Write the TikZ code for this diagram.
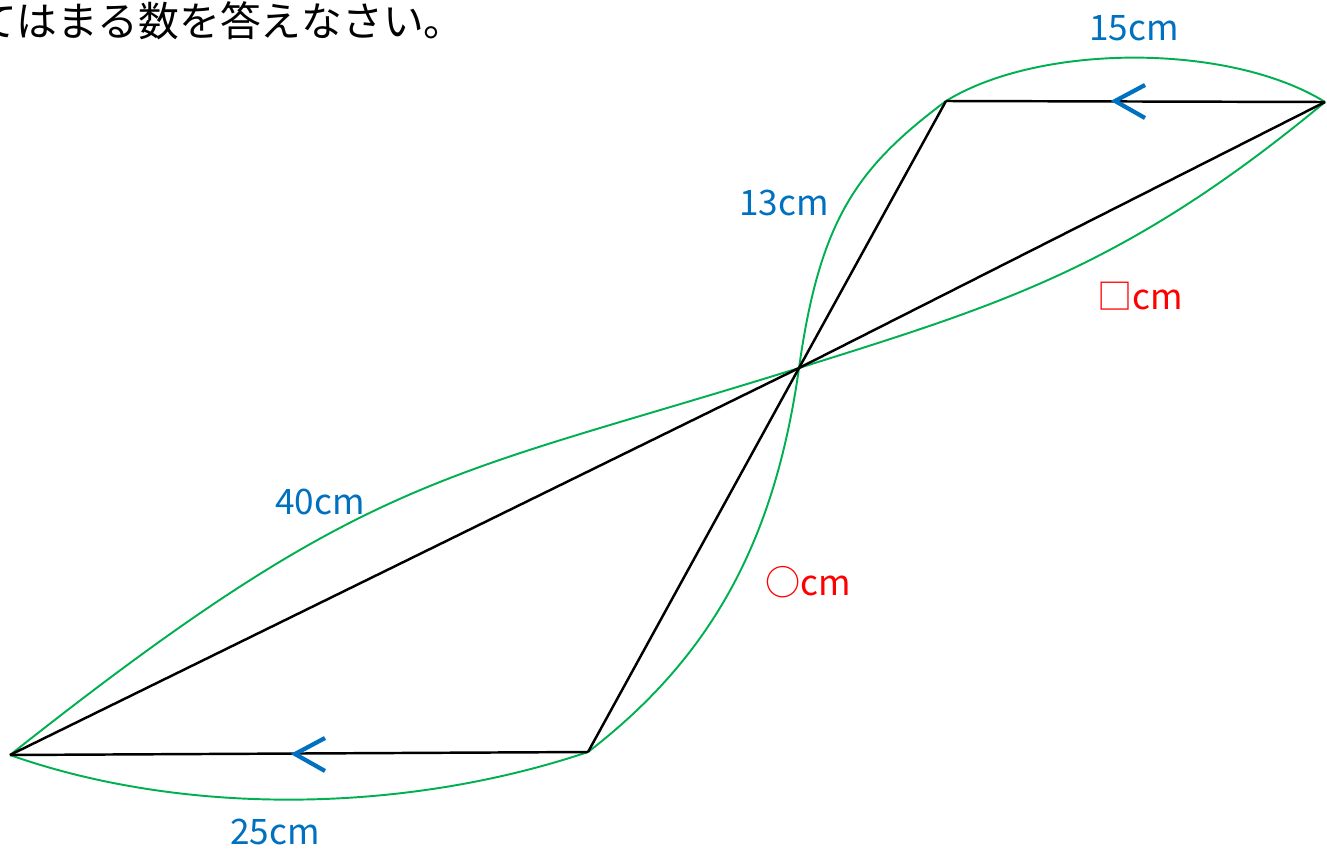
\documentclass[tikz,border=0pt]{standalone}
\usepackage{fontspec}
\setmainfont{Noto Sans CJK JP}
\definecolor{lblue}{RGB}{0,112,192}
\definecolor{lgreen}{RGB}{0,176,80}
\begin{document}
\begin{tikzpicture}[x=0.02cm, y=-0.02cm,
    side/.style={line width=1.4pt, black},
    arc/.style={line width=1.1pt, lgreen},
    chev/.style={line width=2.4pt, lblue},
    lbl/.style={text=lblue, font=\fontsize{20}{24}\selectfont, inner sep=0pt},
    ans/.style={text=red, font=\fontsize{20}{24}\selectfont, inner sep=0pt}]
        \useasboundingbox (0,0) rectangle (1327,852);

        \node[anchor=west, inner sep=0pt, font=\fontsize{23.2}{27}\selectfont] at (-24,21) (q) {てはまる数を答えなさい。};

        \coordinate (a) at (10,755);
        \coordinate (b) at (588,752);
        \coordinate (o) at (799,368);
        \coordinate (c) at (946,101);
        \coordinate (d) at (1325,102);

        % green arcs for the lengths
        \draw[arc] (c) .. controls (1040,43) and (1230,43) .. (d);
        \draw[arc] (c) .. controls (858,167) and (820,218) .. (o);
        \draw[arc] (o) .. controls (775,538) and (714,655) .. (b);
        \draw[arc] (o) .. controls (999,305) and (1125,268) .. (d);
        \draw[arc] (a) .. controls (370,470) and (440,480) .. (o);
        \draw[arc] (a) .. controls (180,815) and (400,815) .. (b);

        % the two triangles
        \draw[side] (a)--(b);
        \draw[side] (b)--(o);
        \draw[side] (o)--(c);
        \draw[side] (c)--(d);
        \draw[side] (d)--(o);
        \draw[side] (o)--(a);

        % parallel marks
        \draw[chev] (1145,85) -- (1115,101) -- (1145,118);
        \draw[chev] (325,738) -- (295,754) -- (325,771);

        \node[lbl] at (1134,28) (l15) {15cm};
        \node[lbl] at (784,203) (l13) {13cm};
        \node[lbl] at (320,502) (l40) {40cm};
        \node[lbl] at (275,832) (l25) {25cm};
        \node[ans] at (1140,296) (lsq) {□cm};
        \node[ans] at (808,582) (lci) {○cm};
      \end{tikzpicture}
\end{document}
